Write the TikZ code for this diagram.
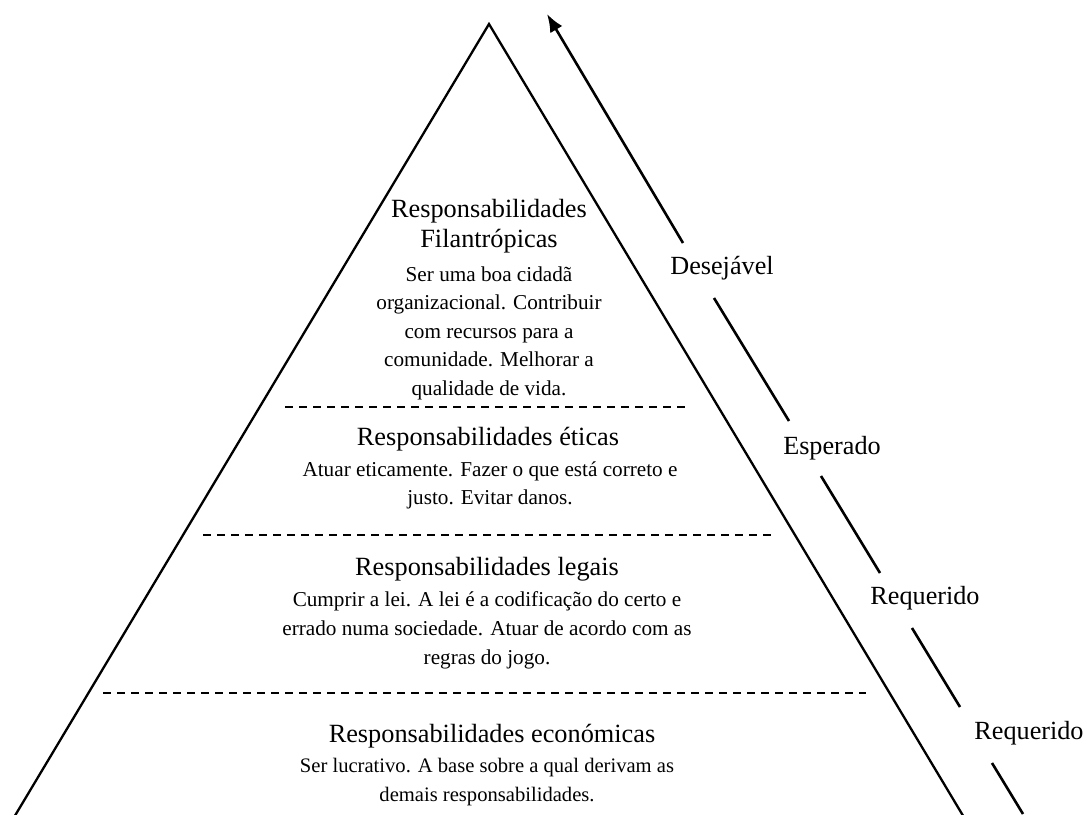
\documentclass[tikz,border=0pt]{standalone}
\usepackage{fontspec}
\setmainfont{Liberation Serif}
\usetikzlibrary{arrows.meta}
\begin{document}
\begin{tikzpicture}[x=1pt,y=-1pt,
  side/.style={line width=2.3pt, line join=miter},
  levelsep/.style={line width=2pt, dash pattern=on 8pt off 6pt},
  scale line/.style={line width=2.6pt},
  heading/.style={inner sep=0pt, anchor=base, font=\fontsize{26.3}{30}\selectfont},
  body/.style={inner sep=0pt, anchor=base, font=\fontsize{21.2}{28}\selectfont},
  smallbody/.style={inner sep=0pt, anchor=base, font=\fontsize{20.6}{28}\selectfont},
  lab/.style={inner sep=0pt, anchor=center, font=\fontsize{26.2}{30}\selectfont}]
\useasboundingbox (0,0) rectangle (1087,814);
\clip (0,0) rectangle (1087,814);

% pyramid outline
\coordinate (apex) at (489,24);
\coordinate (bl) at (6.4,830);
\coordinate (br) at (971.6,830);
\draw[side] (bl) -- (apex) -- (br);

% level separators
\coordinate (s1a) at (285,407); \coordinate (s1b) at (686,407);
\coordinate (s2a) at (203,535); \coordinate (s2b) at (771,535);
\coordinate (s3a) at (103,693); \coordinate (s3b) at (866,693);
\draw[levelsep] (s1a) -- (s1b);
\draw[levelsep] (s2a) -- (s2b);
\draw[levelsep] (s3a) -- (s3b);

% philanthropic level
\node[heading] (fh1) at (489,217) {Responsabilidades};
\node[heading] (fh2) at (489,247) {Filantrópicas};
\node[body] (fb1) at (489,281) {Ser uma boa cidadã};
\node[body] (fb2) at (489,309.5) {organizacional. Contribuir};
\node[body] (fb3) at (489,338) {com recursos para a};
\node[body] (fb4) at (489,366.5) {comunidade. Melhorar a};
\node[body] (fb5) at (489,395) {qualidade de vida.};

% ethical level
\node[heading] (eh1) at (488,445) {Responsabilidades éticas};
\node[body] (eb1) at (490,476) {Atuar eticamente. Fazer o que está correto e};
\node[body] (eb2) at (490,504) {justo. Evitar danos.};

% legal level
\node[heading] (lh1) at (487,575) {Responsabilidades legais};
\node[body] (lb1) at (487,606) {Cumprir a lei. A lei é a codificação do certo e};
\node[body] (lb2) at (487,635) {errado numa sociedade. Atuar de acordo com as};
\node[body] (lb3) at (487,664) {regras do jogo.};

% economic level
\node[heading] (ch1) at (492,742) {Responsabilidades económicas};
\node[smallbody] (cb1) at (487,772) {Ser lucrativo. A base sobre a qual derivam as};
\node[smallbody] (cb2) at (487,801) {demais responsabilidades.};

% scale arrow, broken at each label
\coordinate (tip) at (547,14);
\coordinate (a1) at (683,243);
\coordinate (a2) at (714,298);
\coordinate (a3) at (789,421);
\coordinate (a4) at (821,476);
\coordinate (a5) at (880,573);
\coordinate (a6) at (912,628);
\coordinate (a7) at (960,707);
\coordinate (a8) at (992,763);
\coordinate (a9) at (1023,814);
\draw[scale line, -{Latex[length=18pt,width=14pt]}] (a1) -- (tip);
\draw[scale line] (a3) -- (a2);
\draw[scale line] (a5) -- (a4);
\draw[scale line] (a7) -- (a6);
\draw[scale line] (a9) -- (a8);

\node[lab] (desejavel) at (722,268) {Desejável};
\node[lab] (esperado) at (832,448) {Esperado};
\node[lab] (requerido1) at (925,598) {Requerido};
\node[lab] (requerido2) at (1029,733) {Requerido};
\end{tikzpicture}
\end{document}
